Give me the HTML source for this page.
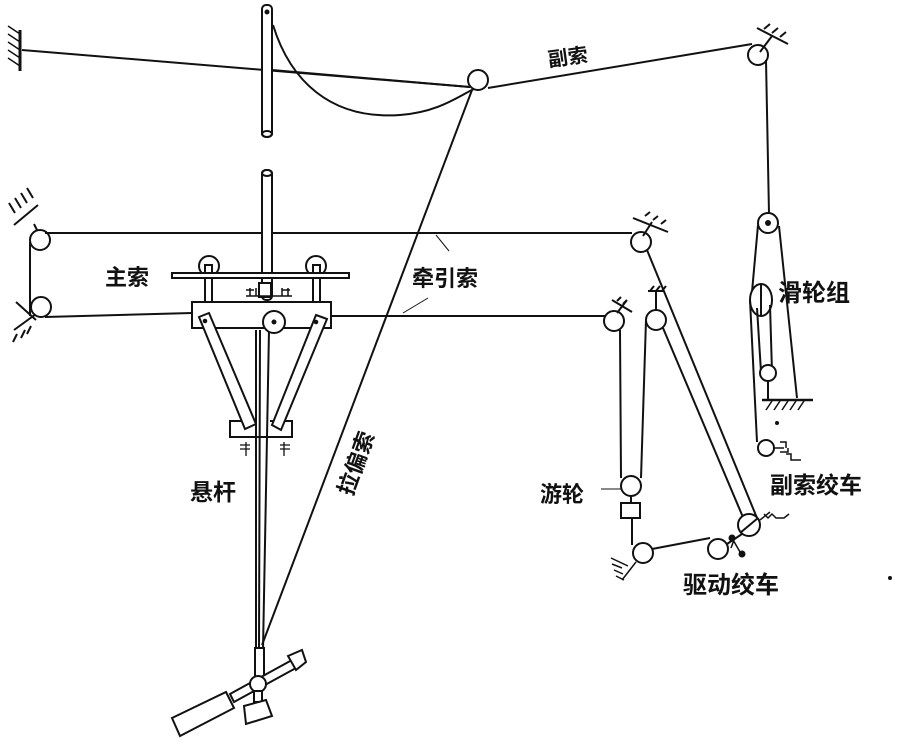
<!DOCTYPE html>
<html><head><meta charset="utf-8"><style>
html,body{margin:0;padding:0;background:#fff}
svg{display:block}
text{font-family:"Liberation Sans","Noto Sans CJK SC",sans-serif;fill:#111;font-weight:bold}
</style></head><body>
<svg width="897" height="746" viewBox="0 0 897 746" xmlns="http://www.w3.org/2000/svg" fill="none" stroke="#111" stroke-width="2">
<line x1="20" y1="30" x2="20" y2="71" stroke-width="3"/>
<path d="M20 34 l-12 -8 M20 42 l-12 -8 M20 50 l-12 -8 M20 58 l-12 -8 M20 66 l-12 -8" stroke-width="1.5"/>
<line x1="22" y1="50" x2="470" y2="87"/>
<rect x="262" y="5" width="10" height="132" rx="4" fill="#fff"/>
<ellipse cx="267" cy="134" rx="5" ry="3"/>
<circle cx="267" cy="12" r="1.5" fill="#111"/>
<path d="M273 25 C290 80 330 120 400 115 C440 112 460 95 476 88"/>
<line x1="272" y1="70" x2="470" y2="87"/>
<circle cx="478" cy="80" r="10" fill="#fff"/>
<line x1="488" y1="88" x2="752" y2="44"/>
<text x="548" y="64" font-size="20" transform="rotate(-8 568 58)" stroke="none">副索</text>
<circle cx="758" cy="55" r="10" fill="#fff"/>
<path d="M760 52 L772 36 M757 28 L788 44 M764 29 l6 -5 M772 33 l6 -5 M780 37 l6 -5" stroke-width="2"/>
<line x1="766" y1="60" x2="769" y2="214"/>
<circle cx="768" cy="223" r="10" fill="#fff"/>
<circle cx="768" cy="223" r="2" fill="#111"/>
<line x1="758" y1="225" x2="752" y2="292"/>
<line x1="779" y1="226" x2="797" y2="398"/>
<ellipse cx="761" cy="300" rx="11" ry="16" fill="#fff"/>
<line x1="761" y1="284" x2="761" y2="316"/>
<line x1="757" y1="308" x2="761" y2="372"/>
<line x1="770" y1="305" x2="772" y2="372"/>
<circle cx="768" cy="373" r="8" fill="#fff"/>
<line x1="768" y1="381" x2="768" y2="400"/>
<line x1="762" y1="400" x2="813" y2="400" stroke-width="2.5"/>
<path d="M766 410 l6 -9 M774 410 l6 -9 M782 410 l6 -9 M790 410 l6 -9 M798 410 l6 -9" stroke-width="1.5"/>
<line x1="750" y1="300" x2="757" y2="442"/>
<circle cx="766" cy="448" r="8" fill="#fff"/>
<path d="M774 448 h10 M780 442 h6 v6 M780 452 h8 v-4 M786 454 h5 v6 h10" stroke-width="1.5"/>
<circle cx="777" cy="423" r="1" fill="#111"/>
<text x="778" y="301" font-size="24" stroke="none">滑轮组</text>
<text x="770" y="493" font-size="23" stroke="none">副索绞车</text>
<path d="M38 232 l-4 -8 M14 225 L38 205 M15 213 l-6 -10 M21 208 l-6 -10 M27 203 l-6 -10 M33 198 l-6 -10" stroke-width="2"/>
<circle cx="40" cy="240" r="10" fill="#fff"/>
<path d="M36 314 L14 330 M16 302 L36 320 M17 334 l-4 8 M25 330 l-4 8 M31 326 l-4 8" stroke-width="2"/>
<circle cx="41" cy="307" r="10" fill="#fff"/>
<line x1="30" y1="242" x2="30" y2="316"/>
<line x1="45" y1="233" x2="632" y2="233"/>
<line x1="45" y1="317" x2="192" y2="313"/>
<line x1="330" y1="316" x2="608" y2="316"/>
<circle cx="641" cy="242" r="10" fill="#fff"/>
<path d="M643 236 L652 222 M633 218 L668 232 M645 216 l5 -4 M653 220 l5 -4 M661 224 l5 -4" stroke-width="2"/>
<line x1="647" y1="250" x2="757" y2="518"/>
<circle cx="614" cy="321" r="10" fill="#fff"/>
<path d="M617 313 L627 300 M612 300 L632 312 M617 301 l4 -4 M623 304 l4 -4" stroke-width="2"/>
<circle cx="656" cy="320" r="10" fill="#fff"/>
<path d="M656 310 V291 M648 291 H664 M650 291 l4 -5 M656 291 l4 -5 M662 291 l4 -5" stroke-width="2"/>
<line x1="663" y1="328" x2="745" y2="522"/>
<line x1="620" y1="330" x2="621" y2="478"/>
<line x1="646" y1="320" x2="641" y2="478"/>
<circle cx="631" cy="486" r="10" fill="#fff"/>
<line x1="631" y1="496" x2="631" y2="503"/>
<rect x="621" y="503" width="19" height="15" fill="#fff"/>
<line x1="632" y1="518" x2="632" y2="545"/>
<circle cx="643" cy="553" r="10" fill="#fff"/>
<path d="M636 562 L622 580 M611 558 L628 566 M612 564 l10 4 M614 570 l9 4 M616 576 l8 4" stroke-width="1.5"/>
<line x1="652" y1="549" x2="710" y2="538"/>
<circle cx="718" cy="549" r="10" fill="#fff"/>
<line x1="727" y1="544" x2="742" y2="534"/>
<circle cx="749" cy="525" r="11" fill="#fff"/>
<line x1="740" y1="533" x2="758" y2="518"/>
<circle cx="732" cy="538" r="2.5" fill="#111"/>
<path d="M732 538 L740 552 M734 540 l-3 8" stroke-width="1.5"/>
<circle cx="742" cy="554" r="2.5" fill="#111"/>
<path d="M760 520 l10 -8 M764 514 l4 4 l4 -4 l4 4 h8 l5 -4" stroke-width="1.5"/>
<line x1="601" y1="489" x2="621" y2="489" stroke-width="1"/>
<text x="540" y="502" font-size="22" stroke="none">游轮</text>
<text x="683" y="593" font-size="24" stroke="none">驱动绞车</text>
<text x="412" y="286" font-size="22" stroke="none">牵引索</text>
<line x1="436" y1="235" x2="449" y2="251" stroke-width="1"/>
<line x1="403" y1="313" x2="428" y2="298" stroke-width="1"/>
<rect x="262" y="170" width="10" height="130" rx="4" fill="#fff"/>
<ellipse cx="267" cy="173" rx="5" ry="3"/>
<circle cx="209" cy="266" r="10" fill="#fff"/>
<circle cx="316" cy="266" r="10" fill="#fff"/>
<rect x="205" y="265" width="7" height="38" fill="#fff"/>
<rect x="313" y="265" width="7" height="38" fill="#fff"/>
<rect x="172" y="273" width="177" height="5" fill="#fff"/>
<rect x="259" y="283" width="12" height="14" fill="#fff"/>
<path d="M246 296 H292 M250 288 v8 M256 288 v8 M282 288 v8 M288 288 v8 M246 290 h8 M282 290 h8" stroke-width="1.5"/>
<text x="105" y="285" font-size="22" stroke="none">主索</text>
<rect x="192" y="302" width="139" height="26" fill="#fff"/>
<rect x="230" y="421" width="62" height="16" fill="#fff"/>
<polygon points="199,317 209,313 256,424 245,429" fill="#fff"/>
<polygon points="316,315 327,319 281,430 272,425" fill="#fff"/>
<circle cx="205" cy="321" r="1.3" fill="#111"/>
<circle cx="316" cy="322" r="1.3" fill="#111"/>
<path d="M240 445 h10 M240 449 h10 M246 442 v14 M280 445 h10 M280 449 h10 M284 442 v14" stroke-width="1.3"/>
<rect x="255" y="330" width="15" height="100" fill="#fff" stroke="none"/>
<line x1="256" y1="330" x2="256" y2="650"/>
<line x1="260" y1="330" x2="259" y2="650"/>
<line x1="269" y1="330" x2="263" y2="650"/>
<circle cx="274" cy="322" r="11" fill="#fff"/>
<circle cx="274" cy="322" r="1.5" fill="#111"/>
<line x1="472" y1="90" x2="262" y2="645"/>
<text x="190" y="500" font-size="23" stroke="none">悬杆</text>
<text x="0" y="0" font-size="22" stroke="none" transform="translate(352 497) rotate(-70)">拉偏索</text>
<rect x="255" y="648" width="9" height="30" fill="#fff"/>
<polygon points="230,694 292,660 296,668 234,702" fill="#fff"/>
<polygon points="172,718 226,692 234,708 180,736" fill="#fff"/>
<polygon points="288,656 302,650 306,662 296,670" fill="#fff"/>
<circle cx="258" cy="684" r="8" fill="#fff"/>
<rect x="254" y="691" width="8" height="11" fill="#fff"/>
<polygon points="244,706 266,700 272,716 246,724" fill="#fff"/>
<circle cx="890" cy="578" r="1" fill="#111"/>
</svg>
</body></html>
